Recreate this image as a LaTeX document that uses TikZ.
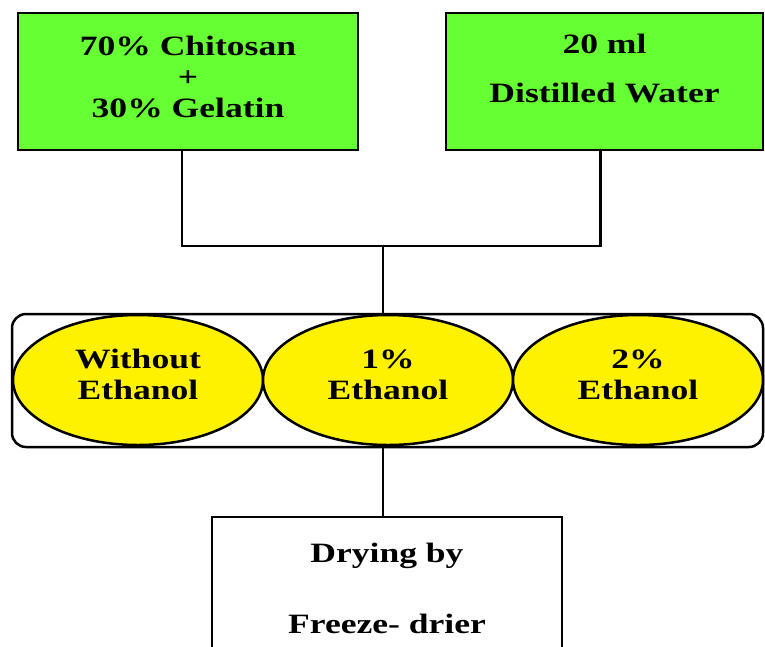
\documentclass[tikz,border=0pt]{standalone}
\usepackage{fontspec}
\setmainfont{Liberation Serif}[FakeStretch=1.27]
\usetikzlibrary{shapes.geometric}
\definecolor{boxgreen}{HTML}{66FF33}
\begin{document}
\begin{tikzpicture}[x=1pt, y=-1pt, line width=2.5pt,
  green box/.style={rectangle,draw,fill=boxgreen,minimum height=137pt,align=center,inner sep=0pt},
  oval node/.style={ellipse,draw,fill=yellow,minimum width=250pt,minimum height=130pt,inner sep=0pt,align=center,text depth=11pt},
  dry box/.style={rectangle,draw,minimum width=350pt,minimum height=153pt,align=center,inner sep=0pt,text depth=10pt}]
\clip (0,0) rectangle (765,646);
\begin{scope}[every node/.style={font=\fontsize{28}{31}\selectfont\bfseries}]
\node[green box, minimum width=340pt, text depth=10pt] (mix) at (188,81.5) {70\% Chitosan\\+\\30\% Gelatin};
\node[green box, minimum width=317pt, text depth=26pt] (water) at (604.5,81.5) {20 ml\\[18pt]Distilled Water};
\node[draw, rounded corners=14pt, minimum width=751pt, minimum height=133pt, inner sep=0pt] (group) at (387.5,380.5) {};
\node[oval node] (e0) at (138,380) {Without\\Ethanol};
\node[oval node] (e1) at (388,380) {1\%\\Ethanol};
\node[oval node] (e2) at (638,380) {2\%\\Ethanol};
\node[dry box] (dry) at (387,593.5) {Drying by\\[40pt]Freeze- drier};
\end{scope}
\coordinate (join) at (383,246);
\draw ([xshift=-6pt]mix.south) |- (join) -| ([xshift=-4pt]water.south);
\draw (join) -- (join |- group.north);
\draw (join |- group.south) -- (join |- dry.north);
\end{tikzpicture}
\end{document}
